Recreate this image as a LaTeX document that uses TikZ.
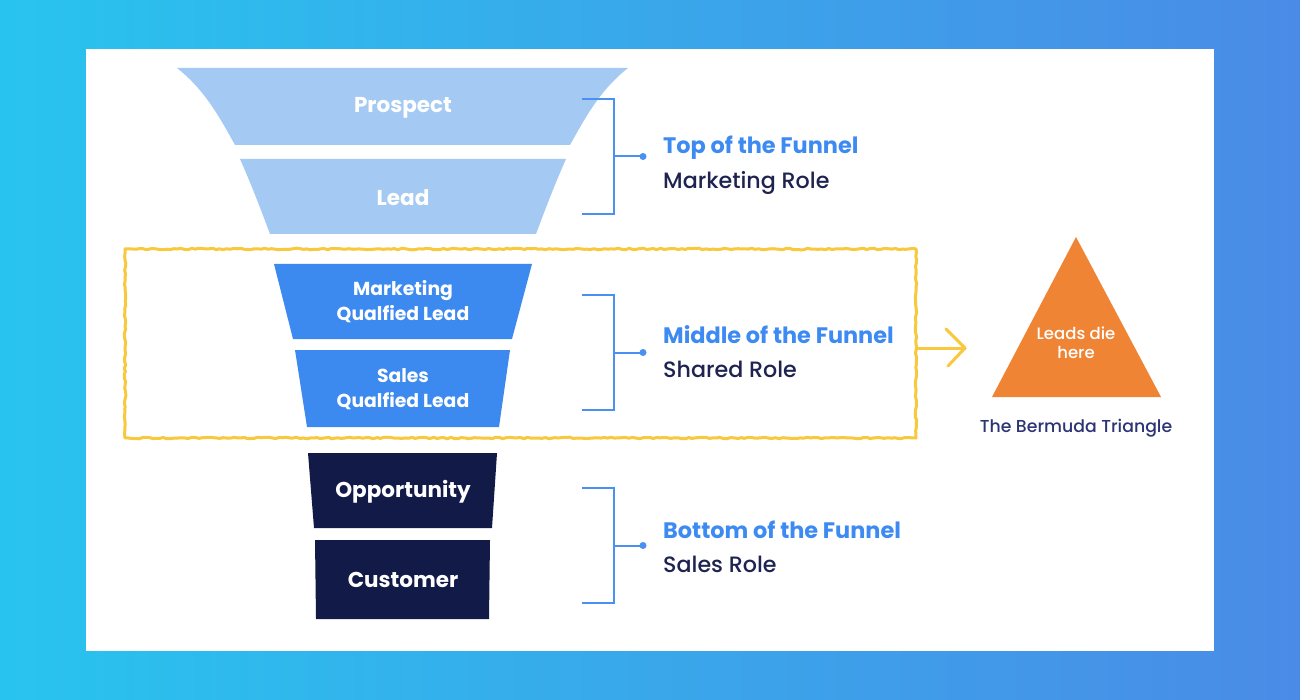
\documentclass[tikz,border=0pt]{standalone}
\usepackage{fontspec}
\setmainfont{Poppins}
\newfontfamily\medfont{Poppins}[UprightFont={* Medium}]
\usetikzlibrary{decorations.pathmorphing}
\definecolor{bgl}{HTML}{28C4EE}
\definecolor{bgr}{HTML}{4A8BE7}
\definecolor{fLight}{HTML}{A4CAF4}
\definecolor{fMid}{HTML}{3C8AF0}
\definecolor{fDark}{HTML}{121A48}
\definecolor{brBlue}{HTML}{4A90F0}
\definecolor{headBlue}{HTML}{3D8BF2}
\definecolor{roleDark}{HTML}{1E2350}
\definecolor{hlYellow}{HTML}{F8C83E}
\definecolor{triOrange}{HTML}{EF8434}
\definecolor{bermText}{HTML}{2E3575}
\begin{document}
\begin{tikzpicture}[x=1pt,y=-1pt,
  stagetext/.style={text=white,font=\bfseries\fontsize{21.5}{26}\selectfont,align=center},
  stagetextsm/.style={text=white,font=\bfseries\fontsize{18.8}{25}\selectfont,align=center},
  bracket/.style={draw=brBlue,line width=2pt},
  headtext/.style={anchor=west,text=headBlue,font=\bfseries\fontsize{22.4}{26}\selectfont,inner sep=0pt},
  roletext/.style={anchor=west,text=roleDark,font=\medfont\fontsize{22.2}{26}\selectfont,inner sep=0pt},
  yellowline/.style={draw=hlYellow,line width=3pt,line cap=round,line join=round},
  handdrawn/.style={decorate,decoration={random steps,segment length=3.5pt,amplitude=0.8pt}}]
\pgfmathsetseed{7}
\useasboundingbox (0,0) rectangle (1300,700);
\shade[left color=bgl,right color=bgr] (0,0) rectangle (1300,700);
\fill[white] (86,49) rectangle (1214,651);
% funnel
\fill[fLight] (177,68) -- (628,68) .. controls (600,90) and (585,118) .. (570,145) -- (235,145) .. controls (220,118) and (205,90) .. (177,68) -- cycle;
\fill[fLight] (240,159) -- (566,159) .. controls (554,186) and (545,210) .. (536,234) -- (270,234) .. controls (261,210) and (252,186) .. (240,159) -- cycle;
\fill[fMid] (274,264) -- (532,264) -- (512,339) -- (293,339) -- cycle;
\fill[fMid] (295,350) -- (510,350) -- (499,427) -- (307,427) -- cycle;
\fill[fDark] (308,453) -- (497,453) -- (492,528) -- (314,528) -- cycle;
\fill[fDark] (315,540) -- (490,540) -- (489,619) -- (316,619) -- cycle;
\node[stagetext] (prospect) at (403,108) {Prospect};
\node[stagetext] (lead) at (403,198) {Lead};
\node[stagetextsm] (mql) at (403,302) {Marketing\\Qualfied Lead};
\node[stagetextsm] (sql) at (403,389) {Sales\\Qualfied Lead};
\node[stagetext] (opp) at (403,492) {Opportunity};
\node[stagetext] (cust) at (403,580) {Customer};
% brackets
\foreach \n/\yt/\yb in {top/99/214, mid/295/410, bot/488/603}{
  \coordinate (\n a) at (582,\yt);
  \coordinate (\n b) at (614,\yt);
  \coordinate (\n c) at (614,\yb);
  \coordinate (\n d) at (582,\yb);
  \coordinate (\n m) at (614,{(\yt+\yb)/2});
  \coordinate (\n e) at (643,{(\yt+\yb)/2});
  \draw[bracket] (\n a) -- (\n b) -- (\n c) -- (\n d);
  \draw[bracket] (\n m) -- (\n e);
  \fill[brBlue] (\n e) circle (3.5);
}
\node[headtext] (toph) at (663,148) {Top of the Funnel};
\node[roletext] (topr) at (663,183) {Marketing Role};
\node[headtext] (midh) at (663,335) {Middle of the Funnel};
\node[roletext] (midr) at (663,369) {Shared Role};
\node[headtext] (both) at (663,530) {Bottom of the Funnel};
\node[roletext] (botr) at (663,564) {Sales Role};
% yellow highlight
\draw[yellowline,handdrawn] (125,249) rectangle (916,438);
\coordinate (arrA) at (917,348);
\coordinate (arrB) at (965,348);
\coordinate (arrU) at (946,329);
\coordinate (arrD) at (948,366);
\draw[yellowline] (arrA) -- (arrB);
\draw[yellowline] (arrU) -- (arrB) -- (arrD);
% triangle
\fill[triOrange] (1076,237) -- (1161,397) -- (992,397) -- cycle;
\node[text=white,font=\medfont\fontsize{16.5}{19}\selectfont,align=center] (die) at (1076,343) {Leads die\\here};
\node[text=bermText,font=\medfont\fontsize{17.3}{20}\selectfont] (berm) at (1076,428) {The Bermuda Triangle};
\end{tikzpicture}
\end{document}
